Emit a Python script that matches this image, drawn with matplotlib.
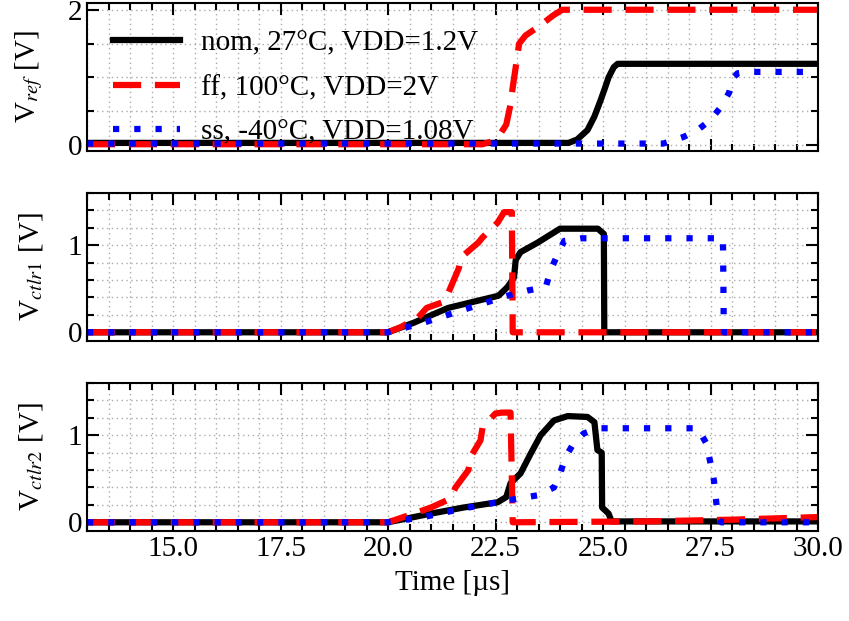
import numpy as np
import matplotlib
matplotlib.use("Agg")
import matplotlib.pyplot as plt
from matplotlib.ticker import MultipleLocator, FormatStrFormatter

plt.rcParams['font.family'] = ['Liberation Serif', 'DejaVu Serif']
plt.rcParams['mathtext.fontset'] = 'stix'
plt.rcParams['font.size'] = 21

labels = ["nom, 27°C, VDD=1.2V", "ff, 100°C, VDD=2V", "ss, -40°C, VDD=1.08V"]

# V_ref
t_ref_nom = [13, 24.2, 24.4, 24.64, 24.8, 24.95, 25.05, 25.13, 25.25, 25.34, 30]
v_ref_nom = [0.03, 0.03, 0.08, 0.22, 0.42, 0.67, 0.85, 1.0, 1.15, 1.2, 1.2]
t_ref_ff = [13, 22.2, 22.4, 22.6, 22.75, 22.85, 22.9, 22.97, 23.05, 23.2, 23.5, 23.85, 24.05, 30]
v_ref_ff = [0.01, 0.01, 0.05, 0.15, 0.3, 0.6, 0.85, 1.15, 1.5, 1.62, 1.75, 1.92, 2.0, 2.0]
t_ref_ss = [13, 26.4, 26.88, 27.2, 27.5, 27.74, 27.93, 28.02, 28.13, 28.35, 30]
v_ref_ss = [0.02, 0.02, 0.12, 0.22, 0.37, 0.56, 0.77, 0.99, 1.06, 1.08, 1.08]

# V_ctlr1
t_c1_nom = [13, 20.0, 20.6, 21.4, 22.15, 22.57, 22.78, 22.93, 22.97, 23.08, 23.48, 24.0, 24.88, 25.02, 25.03, 30]
v_c1_nom = [0.0, 0.0, 0.11, 0.28, 0.37, 0.42, 0.52, 0.63, 0.83, 0.92, 1.03, 1.19, 1.19, 1.13, 0.0, 0.0]
t_c1_ff = [13, 20.0, 20.3, 20.7, 20.9, 21.3, 21.4, 21.65, 21.7, 22.1, 22.2, 22.55, 22.7, 22.88, 22.9, 30]
v_c1_ff = [0.0, 0.0, 0.06, 0.17, 0.28, 0.35, 0.45, 0.74, 0.86, 1.03, 1.09, 1.26, 1.38, 1.38, 0.0, 0.0]
t_c1_ss = [13, 20.0, 20.83, 21.7, 22.78, 23.25, 23.67, 23.78, 23.95, 24.1, 24.5, 27.79, 27.81, 30]
v_c1_ss = [0.0, 0.0, 0.11, 0.25, 0.42, 0.48, 0.52, 0.71, 0.9, 1.05, 1.08, 1.08, 0.0, 0.0]

# V_ctlr2
t_c2_nom = [13, 20.0, 21.0, 21.76, 22.55, 22.75, 22.85, 23.08, 23.32, 23.55, 23.86, 24.18, 24.64, 24.8,
            24.87, 24.97, 24.98, 25.13, 25.2, 30]
v_c2_nom = [0.0, 0.0, 0.1, 0.17, 0.23, 0.29, 0.45, 0.56, 0.79, 1.0, 1.17, 1.22, 1.21, 1.15,
            0.83, 0.8, 0.17, 0.1, 0.01, 0.01]
t_c2_ff = [13, 20.0, 20.6, 21.0, 21.45, 21.57, 21.87, 21.92, 22.15, 22.2, 22.5, 22.65, 22.85, 22.9, 26.0, 28.0, 30]
v_c2_ff = [0.0, 0.0, 0.1, 0.17, 0.27, 0.4, 0.6, 0.75, 0.94, 1.09, 1.25, 1.26, 1.26, 0.0, 0.01, 0.03, 0.06]
t_c2_ss = [13, 20.0, 20.83, 21.76, 22.55, 23.0, 23.48, 23.86, 24.0, 24.13, 24.32, 24.55, 24.88, 27.2,
           27.4, 27.5, 27.58, 27.63, 27.67, 27.75, 30]
v_c2_ss = [0.0, 0.0, 0.06, 0.16, 0.23, 0.27, 0.31, 0.4, 0.56, 0.75, 0.91, 1.02, 1.08, 1.08,
           0.91, 0.68, 0.48, 0.25, 0.05, 0.0, 0.0]

styles = [
    dict(color='black', linestyle='-'),
    dict(color='#ff0000', linestyle=(0, (4.5, 2.2))),
    dict(color='#0000ff', linestyle=(0, (1, 2.4))),
]
LW = 4.5

fig = plt.figure(figsize=(8.49, 6.21), dpi=100)
left, width = 87 / 849, (818 - 87) / 849
ax1 = fig.add_axes([left, 1 - 151 / 621, width, 148 / 621])
ax2 = fig.add_axes([left, 1 - 341 / 621, width, 148 / 621], sharex=ax1)
ax3 = fig.add_axes([left, 1 - 531 / 621, width, 148 / 621], sharex=ax1)

panels = [
    (ax1, [(t_ref_nom, v_ref_nom), (t_ref_ff, v_ref_ff), (t_ref_ss, v_ref_ss)],
     r"V$_{ref}$ [V]", (-0.09, 2.1), 2, 0.5),
    (ax2, [(t_c1_nom, v_c1_nom), (t_c1_ff, v_c1_ff), (t_c1_ss, v_c1_ss)],
     r"V$_{ctlr1}$ [V]", (-0.1, 1.6), 1, 0.2),
    (ax3, [(t_c2_nom, v_c2_nom), (t_c2_ff, v_c2_ff), (t_c2_ss, v_c2_ss)],
     r"V$_{ctlr2}$ [V]", (-0.1, 1.6), 1, 0.2),
]

for ax, series, ylab, ylim, ymaj, ymin in panels:
    for (t, v), st, lab in zip(series, styles, labels):
        ax.plot(t, v, lw=LW, label=lab, solid_joinstyle='round', **st)
    ax.set_xlim(13, 30)
    ax.set_ylim(*ylim)
    ax.yaxis.set_major_locator(MultipleLocator(ymaj))
    ax.yaxis.set_minor_locator(MultipleLocator(ymin))
    ax.xaxis.set_major_locator(MultipleLocator(2.5))
    ax.xaxis.set_minor_locator(MultipleLocator(0.5))
    ax.xaxis.set_major_formatter(FormatStrFormatter('%.1f'))
    ax.tick_params(which='both', direction='in', top=True, right=True, width=1.5)
    ax.tick_params(which='major', length=8.5)
    ax.tick_params(which='minor', length=5)
    ax.grid(which='both', linestyle=(0, (1, 2.5)), color='#aaaaaa', linewidth=1.0)
    ax.set_axisbelow(True)
    for sp in ax.spines.values():
        sp.set_linewidth(1.5)
    ax.set_ylabel(ylab)
    ax.yaxis.set_label_coords(-0.057, 0.5)

ax1.tick_params(labelbottom=False)
ax2.tick_params(labelbottom=False)
ax3.set_xlabel("Time [µs]", labelpad=6)

ax1.legend(loc='upper left', frameon=False, handlelength=2.3, handletextpad=0.7,
           labelspacing=0.62, borderaxespad=0.3, bbox_to_anchor=(0.008, 0.955))

fig.savefig("out.png", dpi=100)
